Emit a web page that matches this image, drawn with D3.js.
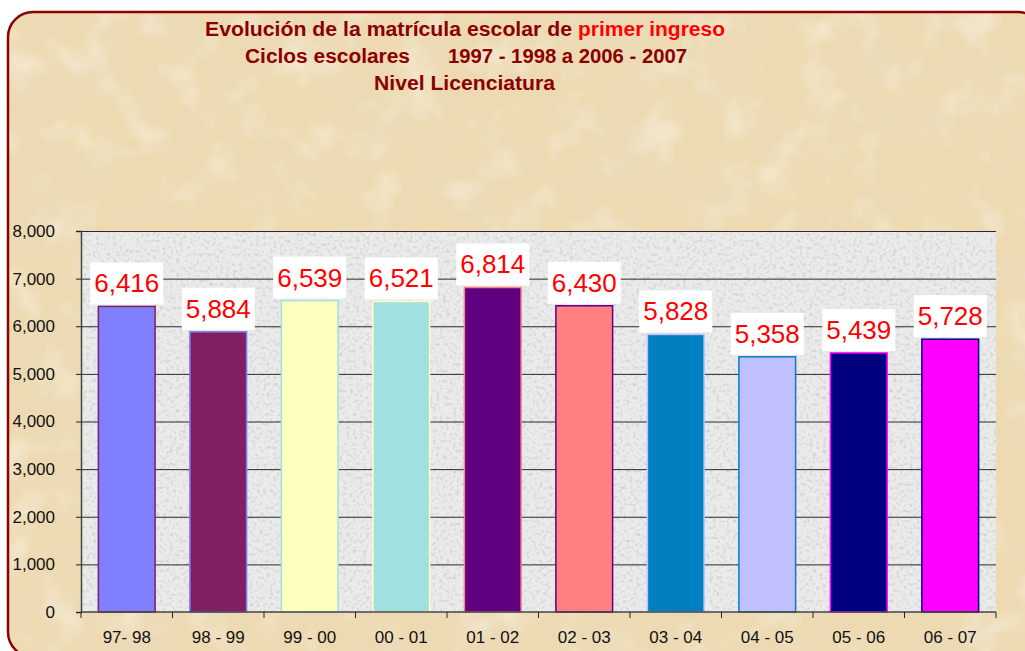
<!DOCTYPE html>
<html>
<head>
<meta charset="utf-8">
<script src="https://cdn.jsdelivr.net/npm/d3@7"></script>
<style>
  body { margin: 0; background: #fff; }
  svg { display: block; }
  text { font-family: Arial, "Liberation Sans", sans-serif; }
</style>
</head>
<body>
<script>
// canvas
var w = 1025, h = 651;

// data
var ciclos = ["97- 98", "98 - 99", "99 - 00", "00 - 01", "01 - 02", "02 - 03", "03 - 04", "04 - 05", "05 - 06", "06 - 07"];
var alumnos = [6416, 5884, 6539, 6521, 6814, 6430, 5828, 5358, 5439, 5728];
var yTicks = [0, 1000, 2000, 3000, 4000, 5000, 6000, 7000, 8000];
var fillColors = ["#8080FF", "#802060", "#FFFFC0", "#A0E0E0", "#600080", "#FF8080", "#0080C0", "#C0C0FF", "#000080", "#FF00FF"];
var lineColors = ["#802060", "#8080FF", "#A0E0E0", "#FFFFC0", "#FF8080", "#600080", "#C0C0FF", "#0080C0", "#FF00FF", "#000080"];

var svg = d3.select("body")
			.append("svg")
			.attr("width", w)
			.attr("height", h);

var defs = svg.append("defs");

// parchment texture
var fp = defs.append("filter").attr("id", "parch")
			.attr("x", 0).attr("y", 0).attr("width", 1).attr("height", 1);
fp.append("feTurbulence").attr("type", "fractalNoise").attr("baseFrequency", "0.012 0.02")
	.attr("numOctaves", 4).attr("seed", 7).attr("result", "n");
fp.append("feColorMatrix").attr("in", "n").attr("type", "matrix")
	.attr("values", "0 0 0 0 0.82  0 0 0 0 0.70  0 0 0 0 0.50  1.5 0 0 0 -0.68").attr("result", "dark");
fp.append("feTurbulence").attr("type", "fractalNoise").attr("baseFrequency", "0.025")
	.attr("numOctaves", 3).attr("seed", 2).attr("result", "n2");
fp.append("feColorMatrix").attr("in", "n2").attr("type", "matrix")
	.attr("values", "0 0 0 0 0.96  0 0 0 0 0.91  0 0 0 0 0.78  1.2 0 0 0 -0.62").attr("result", "light");
fp.append("feMerge").selectAll("feMergeNode").data(["SourceGraphic", "dark", "light"])
	.enter().append("feMergeNode").attr("in", function(d){ return d; });
fp.append("feComposite").attr("in2", "SourceGraphic").attr("operator", "in");

// granite texture for plot area
var fg = defs.append("filter").attr("id", "granite")
			.attr("x", 0).attr("y", 0).attr("width", 1).attr("height", 1);
fg.append("feTurbulence").attr("type", "fractalNoise").attr("baseFrequency", "0.3")
	.attr("numOctaves", 2).attr("seed", 5).attr("result", "n");
fg.append("feColorMatrix").attr("in", "n").attr("type", "matrix")
	.attr("values", "0 0 0 0 0.6  0 0 0 0 0.6  0 0 0 0 0.6  2.4 0 0 0 -1.15").attr("result", "dots");
fg.append("feMerge").selectAll("feMergeNode").data(["SourceGraphic", "dots"])
	.enter().append("feMergeNode").attr("in", function(d){ return d; });

// frame with parchment
svg.append("rect")
	.attr("x", 8).attr("y", 12)
	.attr("width", 1035).attr("height", 645)
	.attr("rx", 25).attr("ry", 25)
	.style("fill", "#EDDAB2")
	.attr("filter", "url(#parch)");
svg.append("rect")
	.attr("x", 8).attr("y", 12)
	.attr("width", 1035).attr("height", 645)
	.attr("rx", 25).attr("ry", 25)
	.style("fill", "none")
	.style("stroke", "#8B0000")
	.style("stroke-width", 2.5);

// title
var title = svg.append("g").style("font-weight", "bold").style("font-size", "20px");
function titlePiece(txt, x0, x1, y, col) {
	title.append("text")
		.attr("x", x0).attr("y", y)
		.attr("textLength", x1 - x0)
		.attr("lengthAdjust", "spacingAndGlyphs")
		.style("fill", col)
		.text(txt);
}
titlePiece("Evolución de la matrícula escolar de", 205, 572, 36, "#8B0000");
titlePiece("primer ingreso", 578, 725, 36, "#FF0000");
titlePiece("Ciclos escolares", 245, 410, 63, "#8B0000");
titlePiece("1997 - 1998 a 2006 - 2007", 448, 687, 63, "#8B0000");
titlePiece("Nivel Licenciatura", 374, 555, 90, "#8B0000");

// scales
var x = d3.scaleBand()
			.domain(ciclos)
			.range([81, 996])
			.paddingInner(0.38)
			.paddingOuter(0.19);
var y = d3.scaleLinear()
			.domain([0, 8000])
			.range([612, 231]);

// plot area
svg.append("rect")
	.attr("x", 81).attr("y", 231)
	.attr("width", 915).attr("height", 381)
	.style("fill", "#EBEBEB")
	.attr("filter", "url(#granite)");

// gridlines
svg.append("g").selectAll("line")
	.data(yTicks.slice(1))
	.enter().append("line")
	.attr("x1", 81).attr("x2", 996)
	.attr("y1", function(d){ return y(d) + 0.5; })
	.attr("y2", function(d){ return y(d) + 0.5; })
	.style("stroke", "#2a2a2a")
	.style("stroke-width", 1);

// y axis
var yAxis = svg.append("g")
	.attr("transform", "translate(81,0)")
	.call(d3.axisLeft(y).tickValues(yTicks).tickSize(5).tickPadding(21).tickFormat(d3.format(",")));
yAxis.select(".domain").style("stroke", "#444").style("stroke-width", 1.5);
yAxis.selectAll(".tick line").style("stroke", "#222");
yAxis.selectAll("text").style("font-size", "17px").style("fill", "#111");

// bars
svg.append("g").selectAll("rect")
	.data(alumnos)
	.enter().append("rect")
	.attr("x", function(d, i){ return x(ciclos[i]); })
	.attr("y", function(d){ return y(d); })
	.attr("width", x.bandwidth())
	.attr("height", function(d){ return y(0) - y(d); })
	.style("fill", function(d, i){ return fillColors[i]; })
	.style("stroke", function(d, i){ return lineColors[i]; })
	.style("stroke-width", 1.5);

// x axis
var xAxis = svg.append("g")
	.attr("transform", "translate(0,612)");
xAxis.append("line")
	.attr("x1", 81).attr("x2", 996).attr("y1", 0).attr("y2", 0)
	.style("stroke", "#444").style("stroke-width", 1.5);
xAxis.selectAll(".tk")
	.data(d3.range(ciclos.length + 1))
	.enter().append("line")
	.attr("class", "tk")
	.attr("x1", function(i){ return x.range()[0] + i * x.step(); })
	.attr("x2", function(i){ return x.range()[0] + i * x.step(); })
	.attr("y1", 0).attr("y2", 6)
	.style("stroke", "#222");
xAxis.selectAll("text")
	.data(ciclos)
	.enter().append("text")
	.attr("x", function(d){ return x(d) + x.bandwidth() / 2; })
	.attr("y", 31)
	.attr("text-anchor", "middle")
	.style("font-size", "17px")
	.style("fill", "#111")
	.text(function(d){ return d; });

// data labels
var labels = svg.append("g").selectAll("g")
	.data(alumnos)
	.enter().append("g")
	.attr("transform", function(d, i){
		return "translate(" + (x(ciclos[i]) + x.bandwidth() / 2) + "," + (y(d) - 2) + ")";
	});
labels.append("rect")
	.attr("x", -36.5).attr("y", -42)
	.attr("width", 73).attr("height", 42)
	.style("fill", "#fff");
labels.append("text")
	.attr("x", 0).attr("y", -12)
	.attr("text-anchor", "middle")
	.style("font-size", "26px")
	.style("fill", "#FF0000")
	.text(function(d){ return d3.format(",")(d); });
</script>
</body>
</html>
